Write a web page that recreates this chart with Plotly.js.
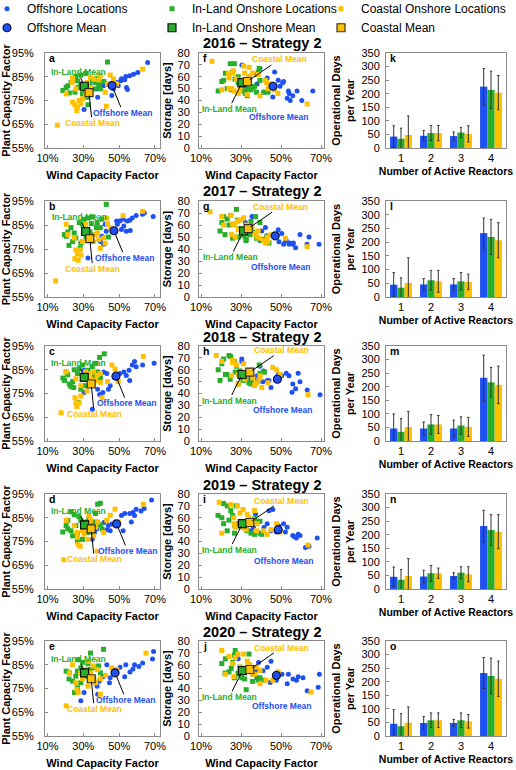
<!DOCTYPE html>
<html><head><meta charset="utf-8">
<script src="https://cdn.plot.ly/plotly-3.0.1.min.js"></script>
<style>html,body{margin:0;padding:0;background:#fff}#chart{width:516px;height:770px}</style>
</head><body><div id="chart"></div>
<script>
// ---------------- DATA ----------------
const years = ['2016','2017','2018','2019','2020'];
const panelLetters = [['a','f','k'],['b','g','l'],['c','h','m'],['d','i','n'],['e','j','o']];
const reactorCats = ['1','2','3','4'];
const windTicks = [10,30,50,70];
const windTickText = ['10%','30%','50%','70%'];
const plantTicks = [55,65,75,85,95];
const plantTickText = ['55%','65%','75%','85%','95%'];

// 2016
const offWind2016 = [65.9,60.4,58.0,55.9,53.7,53.1,50.8,48.6,43.1,41.3,54.1,54.6,45.9,37.7,38.0,30.4,30.4,39.5,34.0,49.5,46.8,51.3];
const offPlant2016 = [91.0,86.8,86.1,85.4,85.1,83.7,83.3,82.6,81.9,81.2,80.5,79.6,77.1,79.9,76.4,79.2,71.2,82.6,81.2,81.2,79.9,84.2];
const offStorage2016 = [48,40,48,44,48,42,55,57,59,47,46,40,43,62,54,70,52,67,60,52,64,56];
const inWind2016 = [43.5,18.6,20.4,21.3,23.1,24.6,25.8,26.7,28.6,27.0,25.3,22.2,30.4,33.1,34.9,36.8,37.7,39.1,38.6,36.0,32.2,32.6,28.6,31.3,29.5,33.7,39.5,41.5];
const inPlant2016 = [91.2,79.2,80.5,81.2,82.6,84.3,85.1,83.3,81.9,80.5,78.5,78.2,79.9,81.2,83.3,82.6,84.3,82.6,80.5,79.9,76.4,73.2,85.7,86.4,77.8,78.7,79.9,83.0];
const inStorage2016 = [47,48,56,57,50,71,64,71,60,58,49,63,54,44,49,52,47,67,64,51,46,52,55,48,53,50,57,47];
const coWind2016 = [15.5,20.4,24.0,23.7,25.8,24.0,25.3,26.7,26.3,28.6,27.6,29.5,31.3,31.8,33.1,34.0,35.8,38.6,39.5,42.2,42.8,43.5,46.8,45.0,63.1,48.5,34.0,32.2];
const coPlant2016 = [64.6,77.8,84.3,82.6,79.9,74.3,73.2,72.2,70.8,73.6,75.0,75.7,77.1,78.5,79.9,80.5,84.0,83.7,85.4,78.5,72.6,81.9,84.0,85.7,88.2,82.0,84.9,82.6];
const coStorage2016 = [73,49,50,63,63,59,50,48,65,46,58,49,69,63,45,68,63,62,44,57,55,50,49,54,37,46,60,55];

// 2017
const offWind2017 = [69.0,64.0,63.0,59.5,57.3,55.9,54.4,52.2,50.4,48.6,49.0,52.6,56.2,54.0,51.3,42.2,42.8,40.4,39.5,41.3,32.2,35.5,32.6];
const offPlant2017 = [88.5,90.0,89.5,89.0,87.9,87.0,86.7,87.4,86.7,86.7,85.3,84.6,82.7,82.4,83.1,85.3,82.4,80.3,78.1,77.0,79.6,78.1,71.3];
const offStorage2017 = [44,50,44,52,41,44,45,47,53,56,46,47,45,44,44,58,51,55,47,48,62,67,53];
const inWind2017 = [42.8,19.5,20.4,21.3,23.1,24.9,25.8,24.0,27.7,29.5,30.4,32.6,35.0,34.5,37.7,37.3,39.5,40.4,33.7,31.5,28.6,28.2,36.0,32.5,22.0,44.0];
const inPlant2017 = [93.6,81.0,80.3,82.1,83.9,81.7,79.6,78.1,86.0,85.3,87.4,87.9,88.4,85.6,86.0,83.9,83.9,87.4,82.1,79.6,77.4,75.3,81.0,80.0,76.5,80.0];
const inStorage2017 = [50,55,62,67,65,68,49,60,73,57,55,48,63,52,49,67,62,47,58,51,50,64,54,47,52,45];
const coWind2017 = [14.5,20.4,21.3,24.9,25.3,25.8,26.7,28.2,28.6,27.1,29.5,31.3,32.6,33.7,35.5,36.8,38.0,38.6,39.5,41.3,43.1,43.5,45.0,52.2,63.1,42.2];
const coPlant2017 = [61.7,85.3,81.0,79.6,71.0,74.6,73.1,74.6,72.4,70.3,78.1,85.3,81.0,79.6,78.1,81.0,81.7,78.9,75.3,79.6,87.9,85.6,83.9,88.9,90.7,77.4];
const coStorage2017 = [71,67,60,68,52,61,60,63,56,50,64,66,60,56,58,53,50,55,49,47,50,46,52,49,42,45];

// 2018
const offWind2018 = [69.5,63.1,58.6,57.3,59.5,55.5,52.6,50.4,48.6,43.1,41.3,39.5,45.0,44.0,40.9,39.1,38.0,35.0,30.4,30.4,55.9,54.0,35.0];
const offPlant2018 = [87.7,87.0,88.5,87.0,86.3,84.8,84.1,83.4,82.6,83.4,84.1,81.9,78.3,76.8,75.4,74.6,76.8,81.2,75.4,84.8,80.5,82.6,68.4];
const offStorage2018 = [39,43,57,44,50,41,57,55,56,51,59,63,45,51,50,54,55,51,67,69,48,55,53];
const inWind2018 = [41.7,39.1,20.4,21.3,18.6,19.5,22.2,24.0,24.6,26.7,27.7,29.5,30.4,32.6,35.0,36.2,38.0,39.5,34.0,28.6,27.1,36.8,31.3,24.9,23.0];
const inPlant2018 = [91.7,90.2,84.1,82.9,81.5,80.5,79.0,80.0,77.5,83.4,85.5,87.0,82.6,84.8,86.3,82.6,84.1,81.5,79.7,76.8,71.3,87.7,78.3,85.0,78.0];
const inStorage2018 = [58,64,65,69,60,51,56,72,52,67,63,59,53,52,48,53,50,57,49,48,58,47,51,71,56];
const coWind2018 = [17.6,20.4,25.8,25.3,25.8,27.7,26.4,28.6,31.3,33.1,34.0,35.8,37.7,39.5,36.8,40.4,43.5,45.9,47.7,49.5,63.5,39.5,28.6,32.0];
const coPlant2018 = [66.9,84.1,81.2,73.2,71.0,71.0,69.5,73.9,84.1,83.4,81.2,84.1,82.6,83.4,80.5,73.2,80.0,87.0,85.3,80.0,90.6,79.7,78.3,76.0];
const coStorage2018 = [72,67,66,55,68,64,67,56,65,59,57,53,49,55,47,45,49,62,60,56,39,53,48,52];

// 2019
const offWind2019 = [68.1,64.0,62.2,59.5,57.7,55.9,53.1,51.3,49.0,47.7,45.9,44.0,43.1,45.0,37.3,36.2,35.0,56.8,58.6,52.2,41.5];
const offPlant2019 = [92.5,88.9,87.8,88.6,87.2,86.8,86.8,86.0,82.4,83.2,82.4,81.7,80.0,79.5,80.3,78.8,75.9,83.2,86.0,79.5,83.0];
const offStorage2019 = [43,36,35,45,43,45,52,55,53,48,67,66,55,49,63,52,49,44,46,48,52];
const inWind2019 = [39.5,38.0,23.1,24.9,21.3,20.4,21.3,23.1,25.8,24.0,26.7,26.7,28.6,31.3,33.1,35.0,36.8,39.5,40.4,32.6,29.5,36.8,18.5,27.5];
const inPlant2019 = [91.1,90.7,87.5,86.3,83.9,81.7,80.3,79.5,81.7,77.4,78.1,75.2,83.9,83.2,84.6,81.7,83.2,82.0,80.3,78.8,75.9,86.8,79.0,85.5];
const inStorage2019 = [47,57,70,66,72,60,55,49,62,58,54,47,55,52,49,47,46,57,46,50,53,59,62,70];
const coWind2019 = [19.1,20.4,24.9,26.4,26.7,27.1,28.2,29.5,30.4,33.1,34.0,36.8,38.0,41.3,43.1,45.0,47.7,49.5,37.7,63.5,32.6,35.8,31.0];
const coPlant2019 = [67.3,83.9,81.7,78.8,76.7,73.8,73.0,79.5,78.1,86.0,83.9,81.0,83.2,78.8,83.9,86.0,88.6,83.2,70.9,90.7,75.9,77.4,80.5];
const coStorage2019 = [73,47,71,60,55,52,70,64,52,63,60,66,55,49,46,50,55,48,49,37,50,58,67];

// 2020
const offWind2020 = [69.2,68.6,63.1,61.0,58.6,57.7,53.7,47.7,44.6,45.0,43.1,38.8,37.7,38.0,28.6,30.4,53.1,56.0,50.5,41.0];
const offPlant2020 = [90.6,87.4,85.7,84.3,85.0,83.2,85.0,81.6,77.4,79.5,85.0,78.1,76.0,72.6,69.8,73.3,79.9,82.0,84.0,80.0];
const offStorage2020 = [52,41,38,49,50,47,52,47,45,63,58,62,55,49,65,54,44,48,52,55];
const inWind2020 = [41.3,34.0,27.1,20.4,22.2,24.0,25.8,26.7,28.6,30.4,31.8,34.0,36.2,35.8,28.6,26.7,25.1,32.6,39.5,22.0,38.5,29.5];
const inPlant2020 = [91.5,89.9,87.1,82.3,81.6,78.1,80.2,82.3,83.7,81.6,80.2,83.0,83.7,79.5,77.4,75.3,73.3,85.4,81.6,79.0,84.5,86.0];
const inStorage2020 = [47,69,72,61,65,54,62,68,52,49,48,60,52,46,53,49,57,39,49,53,47,58];
const coWind2020 = [20.4,24.0,22.2,25.8,26.4,27.1,29.5,31.3,33.1,34.0,37.7,39.5,39.5,45.9,48.6,65.0,36.8,32.6,28.5,42.5,35.5];
const coPlant2020 = [67.7,85.0,81.6,77.4,74.6,73.3,79.1,83.0,86.4,81.6,83.0,79.1,72.6,83.7,83.0,89.9,77.4,76.0,81.5,80.5,84.5];
const coStorage2020 = [72,67,52,61,50,66,58,69,63,60,58,55,44,47,54,37,52,57,69,47,53];

// Means per year (2016..2020)
const offMeanWind = [46.0,47.1,48.2,48.6,47.7];
const offMeanPlant = [81.3,82.6,82.3,82.4,81.6];
const offMeanStorage = [52,51,52,50,51];
const inMeanWind = [30.5,31.3,30.5,30.7,30.7];
const inMeanPlant = [81.0,82.3,81.8,82.0,81.6];
const inMeanStorage = [55,55,56,55,55];
const coMeanWind = [33.2,33.6,34.4,34.4,34.4];
const coMeanPlant = [78.3,79.3,79.0,80.3,79.1];
const coMeanStorage = [56,57,58,56,56];

// Operational days per year by number of active reactors (mean, error)
const offDays2016 = [42,45,44,226], offErr2016 = [40,20,15,67];
const offDays2017 = [45,46,46,233], offErr2017 = [44,21,21,55];
const offDays2018 = [46,46,46,233], offErr2018 = [54,24,31,83];
const offDays2019 = [45,46,48,232], offErr2019 = [36,23,12,58];
const offDays2020 = [45,48,48,232], offErr2020 = [52,24,13,57];
const inDays2016 = [34,55,57,214], inErr2016 = [39,28,18,69];
const inDays2017 = [34,61,57,219], inErr2017 = [36,36,32,64];
const inDays2018 = [34,61,57,216], inErr2018 = [49,36,32,55];
const inDays2019 = [34,58,60,217], inErr2019 = [38,29,22,57];
const inDays2020 = [36,58,58,221], inErr2020 = [46,27,27,66];
const coDays2016 = [48,55,52,204], coErr2016 = [70,28,30,63];
const coDays2017 = [51,57,55,207], coErr2017 = [92,40,28,64];
const coDays2018 = [51,61,52,207], coErr2018 = [58,33,35,69];
const coDays2019 = [48,58,54,211], coErr2019 = [64,19,28,63];
const coDays2020 = [49,58,54,211], coErr2020 = [58,27,25,65];

// ---------------- BUILD ----------------
const yearData = [
  {off:[offWind2016,offPlant2016,offStorage2016], inl:[inWind2016,inPlant2016,inStorage2016], co:[coWind2016,coPlant2016,coStorage2016], bars:[[offDays2016,offErr2016],[inDays2016,inErr2016],[coDays2016,coErr2016]]},
  {off:[offWind2017,offPlant2017,offStorage2017], inl:[inWind2017,inPlant2017,inStorage2017], co:[coWind2017,coPlant2017,coStorage2017], bars:[[offDays2017,offErr2017],[inDays2017,inErr2017],[coDays2017,coErr2017]]},
  {off:[offWind2018,offPlant2018,offStorage2018], inl:[inWind2018,inPlant2018,inStorage2018], co:[coWind2018,coPlant2018,coStorage2018], bars:[[offDays2018,offErr2018],[inDays2018,inErr2018],[coDays2018,coErr2018]]},
  {off:[offWind2019,offPlant2019,offStorage2019], inl:[inWind2019,inPlant2019,inStorage2019], co:[coWind2019,coPlant2019,coStorage2019], bars:[[offDays2019,offErr2019],[inDays2019,inErr2019],[coDays2019,coErr2019]]},
  {off:[offWind2020,offPlant2020,offStorage2020], inl:[inWind2020,inPlant2020,inStorage2020], co:[coWind2020,coPlant2020,coStorage2020], bars:[[offDays2020,offErr2020],[inDays2020,inErr2020],[coDays2020,coErr2020]]}
];

const BLUE = '#1f50f2', GREEN = '#28ae2a', GOLD = '#ffc000';
const FONT = 'Liberation Sans, Arial, sans-serif';
const W = 516, H = 770;
const rowTop = [53,201,346,494,641], rowBot = [148,297,441,589,736];
const colL = [45,199,386], colR = [160,324,506];
const px2x = p => p / W, px2y = p => 1 - p / H;

const legendBase = {orientation:'v', xanchor:'left', y: 1.0075, yanchor:'top',
  font:{family:FONT, size:12, color:'#000'}, itemsizing:'trace', bgcolor:'rgba(0,0,0,0)',
  traceorder:'normal', borderwidth:0, tracegroupgap:1};

const traces = [];
const layout = {
  width: W, height: H,
  margin: {l:0, r:0, t:0, b:0, autoexpand:false},
  paper_bgcolor: '#fff', plot_bgcolor: '#fff',
  font: {family: FONT, size: 11, color: '#000'},
  showlegend: true,
  legend: Object.assign({}, legendBase, {x: px2x(-13)}),
  legend2: Object.assign({}, legendBase, {x: px2x(152)}),
  legend3: Object.assign({}, legendBase, {x: px2x(321)}),
  barmode: 'group', bargap: 0.27, bargroupgap: 0,
  annotations: []
};

const axBase = {showline:true, mirror:true, linecolor:'#8a8a8a', linewidth:1, showgrid:false, zeroline:false,
  ticks:'inside', ticklen:3, tickcolor:'#8a8a8a', ticklabeloverflow:'allow',
  tickfont:{family:FONT, size:11, color:'#000'}};

const meanLabel = {
  0: {off:[11,27], inl:[-6,-14], co:[3,30]},
  1: {off:[6,31], inl:[-13,26], co:[32,-22]}
};

for (let r = 0; r < 5; r++) {
  const d = yearData[r];
  for (let c = 0; c < 3; c++) {
    const idx = r*3 + c + 1;
    const xn = idx === 1 ? 'x' : 'x' + idx, yn = idx === 1 ? 'y' : 'y' + idx;
    const xa = Object.assign({}, axBase, {domain:[px2x(colL[c]), px2x(colR[c])], anchor: yn});
    const ya = Object.assign({}, axBase, {domain:[px2y(rowBot[r]), px2y(rowTop[r])], anchor: xn});
    if (c < 2) {
      xa.range = c === 0 ? [8.6, 72.8] : [9.0, 71.5];
      xa.tickmode = 'array'; xa.tickvals = windTicks; xa.ticktext = windTickText;
      xa.title = {text:'<b>Wind Capacity Factor</b>', font:{family:FONT, size:11, color:'#000'}, standoff: 8};
      if (c === 0) {
        ya.range = [55, 95]; ya.tickmode = 'array'; ya.tickvals = plantTicks; ya.ticktext = plantTickText;
        ya.ticklabelstandoff = 8;
        ya.title = {text:'<b>Plant Capacity Factor</b>', font:{family:FONT, size:11, color:'#000'}, standoff: 2};
      } else {
        ya.range = [0, 80]; ya.dtick = 10;
        ya.ticklabelstandoff = 6;
        ya.title = {text:'<b>Storage [days]</b>', font:{family:FONT, size:11, color:'#000'}, standoff: 3};
      }
      const yi = c === 0 ? 1 : 2;
      const show = (r === 0 && c === 0);
      traces.push({type:'scatter', mode:'markers', x:d.off[0], y:d.off[yi], xaxis:xn, yaxis:yn,
        name:'Offshore Locations', legend:'legend', showlegend:show,
        marker:{symbol:'circle', size:5, color:BLUE}});
      traces.push({type:'scatter', mode:'markers', x:d.inl[0], y:d.inl[yi], xaxis:xn, yaxis:yn,
        name:'In-Land Onshore Locations', legend:'legend2', showlegend:show,
        marker:{symbol:'square', size:5, color:GREEN}});
      traces.push({type:'scatter', mode:'markers', x:d.co[0], y:d.co[yi], xaxis:xn, yaxis:yn,
        name:'Coastal Onshore Locations', legend:'legend3', showlegend:show,
        marker:{symbol:'square', size:5, color:GOLD}});
      const oy = c === 0 ? offMeanPlant[r] : offMeanStorage[r];
      const iy = c === 0 ? inMeanPlant[r] : inMeanStorage[r];
      const cy = c === 0 ? coMeanPlant[r] : coMeanStorage[r];
      traces.push({type:'scatter', mode:'markers', x:[offMeanWind[r]], y:[oy], xaxis:xn, yaxis:yn,
        name:'Offshore Mean', legend:'legend', showlegend:show,
        marker:{symbol:'circle', size:8, color:BLUE, line:{color:'#0b1640', width:1.2}}});
      traces.push({type:'scatter', mode:'markers', x:[inMeanWind[r]], y:[iy], xaxis:xn, yaxis:yn,
        name:'In-Land Onshore Mean', legend:'legend2', showlegend:show,
        marker:{symbol:'square', size:8, color:GREEN, line:{color:'#111', width:1.2}}});
      traces.push({type:'scatter', mode:'markers', x:[coMeanWind[r]], y:[cy], xaxis:xn, yaxis:yn,
        name:'Coastal Mean', legend:'legend3', showlegend:show,
        marker:{symbol:'square', size:8, color:GOLD, line:{color:'#333', width:1.2}}});
      const off = meanLabel[c];
      const mk = (x, y, txt, col, o) => ({xref:xn, yref:yn, x:x, y:y, text:'<b>'+txt+'</b>', showarrow:true,
        arrowhead:0, arrowwidth:1, arrowcolor:'#000', ax:o[0], ay:o[1], standoff:3, borderpad:0,
        font:{family:FONT, size:8.5, color:col}});
      layout.annotations.push(mk(inMeanWind[r], iy, 'In-Land Mean', GREEN, off.inl));
      layout.annotations.push(mk(coMeanWind[r], cy, 'Coastal Mean', GOLD, off.co));
      layout.annotations.push(mk(offMeanWind[r], oy, 'Offshore Mean', BLUE, off.off));
    } else {
      xa.type = 'category'; xa.categoryorder = 'array'; xa.categoryarray = reactorCats;
      xa.ticks = '';
      xa.title = {text:'<b>Number of Active Reactors</b>', font:{family:FONT, size:10.5, color:'#000'}, standoff: 4};
      ya.range = [0, 350]; ya.dtick = 50;
      ya.ticklabelstandoff = 3;
      ya.title = {text:'<b>Operational Days<br>per Year</b>', font:{family:FONT, size:11, color:'#000'}, standoff: 4};
      const cols = [BLUE, GREEN, GOLD], names = ['Offshore', 'In-Land Onshore', 'Coastal Onshore'];
      for (let k = 0; k < 3; k++) {
        traces.push({type:'bar', x:reactorCats, y:d.bars[k][0], xaxis:xn, yaxis:yn, name:names[k], showlegend:false,
          marker:{color:cols[k], line:{width:0}},
          error_y:{type:'data', array:d.bars[k][1], visible:true, color:'#333', thickness:1, width:1.2}});
      }
    }
    layout['xaxis' + (idx === 1 ? '' : idx)] = xa;
    layout['yaxis' + (idx === 1 ? '' : idx)] = ya;
    layout.annotations.push({xref: xn + ' domain', yref: yn + ' domain', x:0, y:1, xanchor:'left', yanchor:'top',
      xshift:3, yshift:2, borderpad:0, showarrow:false, text:'<b>' + panelLetters[r][c] + '</b>',
      font:{family:FONT, size:10.5, color:'#000'}});
  }
  layout.annotations.push({xref:'paper', yref:'paper', x:px2x(262), y:px2y(rowTop[r] - 9.5), xanchor:'center', yanchor:'middle',
    showarrow:false, text:'<b>' + years[r] + ' – Strategy 2</b>', font:{family:FONT, size:14.5, color:'#000'}});
}

Plotly.newPlot('chart', traces, layout, {staticPlot:true, displayModeBar:false});
</script></body></html>
